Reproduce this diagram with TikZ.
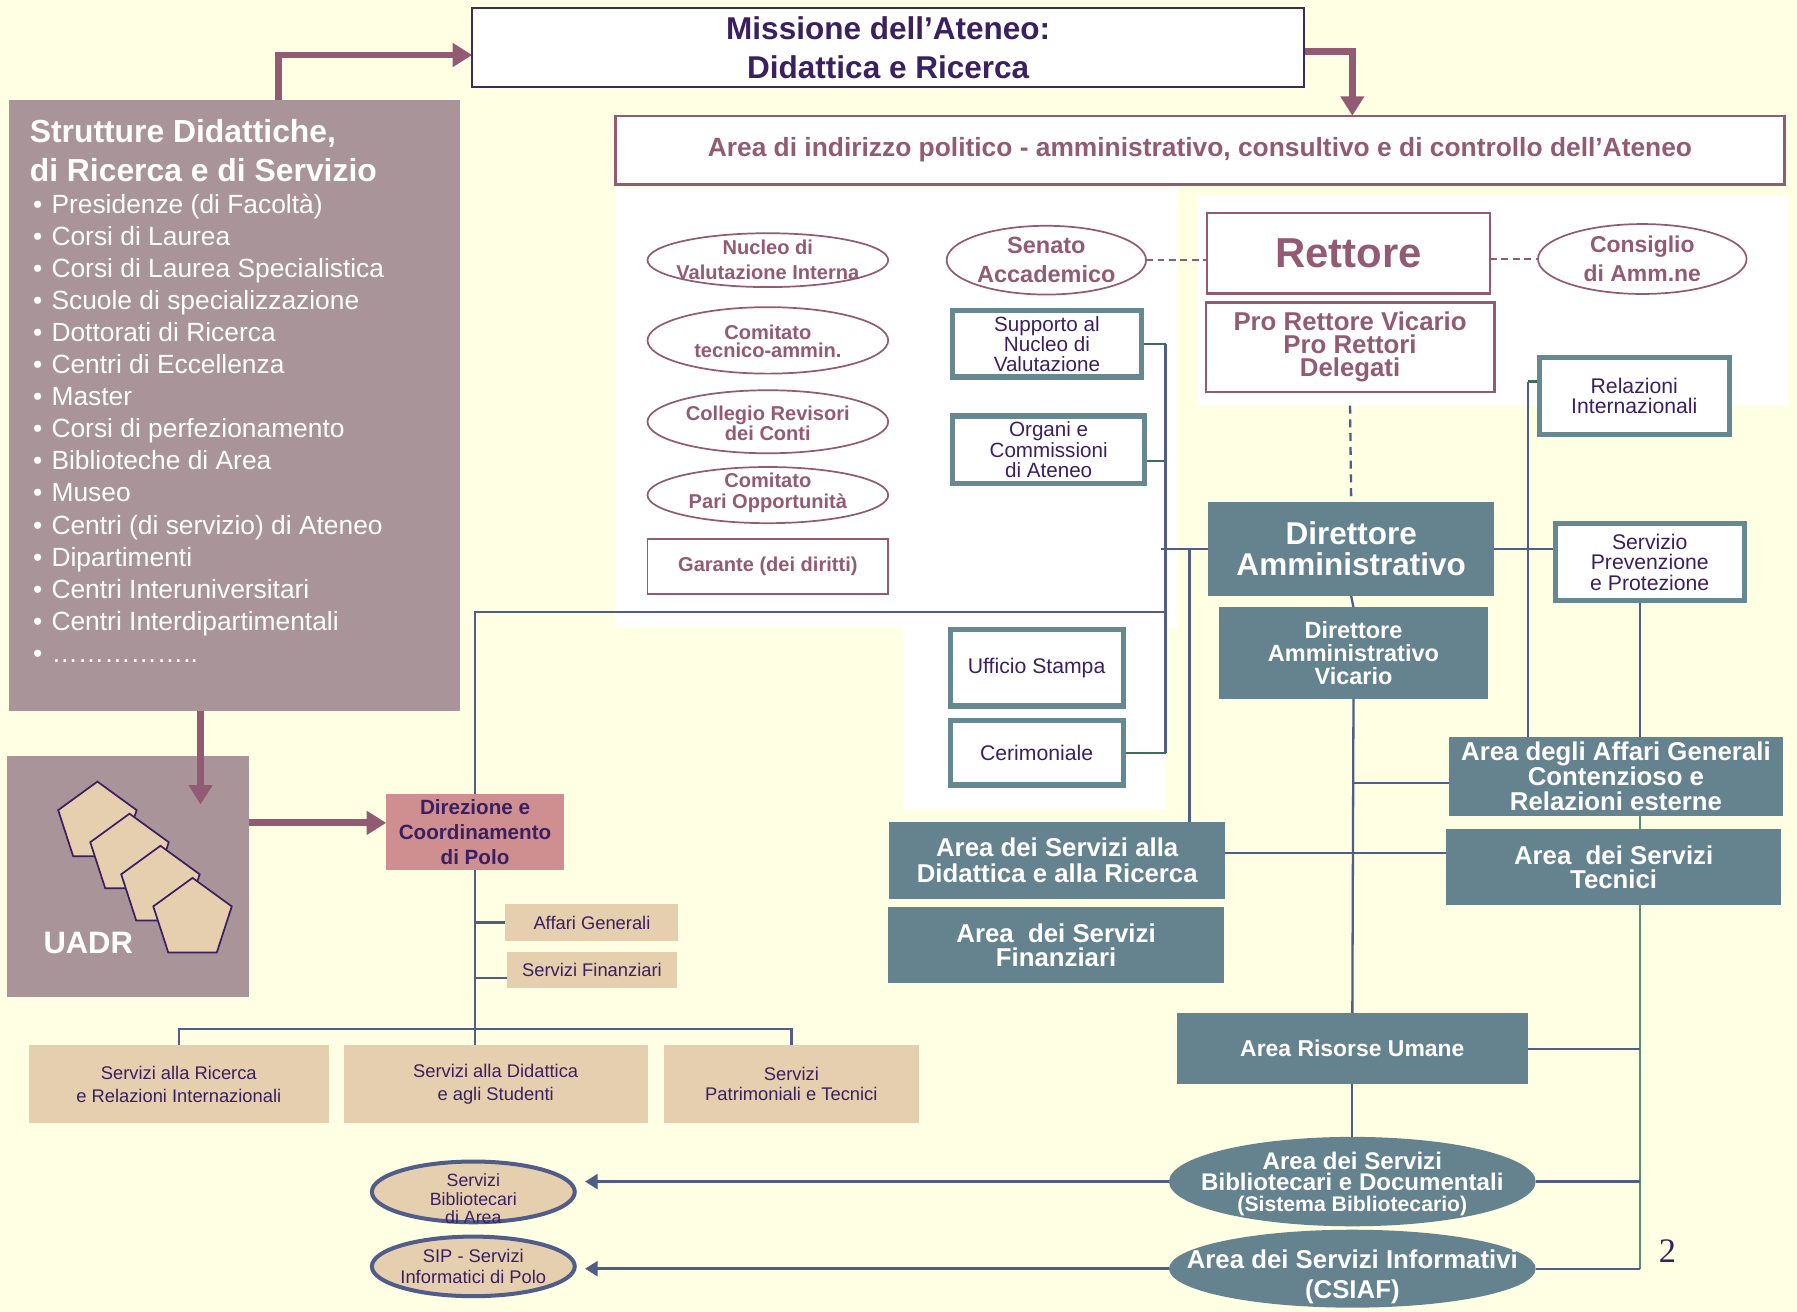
\documentclass[tikz,border=0pt]{standalone}
\usepackage{fontspec}
\setmainfont{Liberation Sans}
\newfontfamily\serif{Liberation Serif}
\usetikzlibrary{shapes.geometric,arrows.meta}
\pgfdeclarelayer{bgl}
\pgfdeclarelayer{lines}
\pgfsetlayers{bgl,lines,main}
\definecolor{bg}{HTML}{FFFFE4}
\definecolor{mauve}{HTML}{935B73}
\definecolor{dpur}{HTML}{3A2060}
\definecolor{strf}{HTML}{A99499}
\definecolor{tealf}{HTML}{64838E}
\definecolor{tealb}{HTML}{668891}
\definecolor{beige}{HTML}{E6CFAF}
\definecolor{pinkf}{HTML}{CF8E8F}
\definecolor{slate}{HTML}{4F5D88}
\definecolor{dgreen}{HTML}{3F6B5C}
\definecolor{lgreen}{HTML}{5A8A78}
\definecolor{mborder}{HTML}{3A2D5C}
\newcommand\fsz[2]{\fontsize{#1}{#2}\selectfont}
\begin{document}
\begin{tikzpicture}[x=1pt,y=-1pt,
  every node/.style={inner sep=0pt,outer sep=0pt},
  conn/.style={draw=slate,line width=2pt},
  gconn/.style={draw=dgreen,line width=2pt},
  lconn/.style={draw=lgreen,line width=2pt},
  big/.style={draw=mauve,line width=6pt,-{Triangle[length=17pt,width=20pt]}},
  tipa/.style={-{Triangle[length=11pt,width=13pt]}},
  dsh/.style={draw=mauve,line width=1.5pt,dash pattern=on 6pt off 4pt},
  sdsh/.style={draw=slate,line width=2pt,dash pattern=on 7pt off 5pt},
  mell/.style={ellipse,draw=mauve,line width=1.5pt,fill=white},
  mtxt/.style={text=mauve,align=center},
  tbox/.style={rectangle,draw=tealb,line width=4.5pt,fill=white,text=dpur,align=center},
  fbox/.style={rectangle,fill=tealf,text=white,align=center},
  bbox/.style={rectangle,fill=beige,text=dpur,align=center},
  bell/.style={ellipse,fill=beige,draw=slate,line width=3.5pt},
  btxt/.style={text=dpur,align=center},
  wtxt/.style={text=white,align=center},
  pent/.style={regular polygon,regular polygon sides=5,minimum size=72,fill=beige,draw=dpur,line width=1.5pt}
]
\useasboundingbox (0,0) rectangle (1568,1144);
\begin{pgfonlayer}{bgl}
\fill[bg] (0,0) rectangle (1568,1144);
\fill[white] (537,163) rectangle (1028,548);
\fill[white] (1045,171) rectangle (1560,353);
\fill[white] (788,548) rectangle (1017,706);
\end{pgfonlayer}

% top boxes
\node[rectangle,draw=mborder,line width=2pt,fill=white,text=dpur,align=center,font=\bfseries\fsz{27.5}{34},minimum width=726,minimum height=69] (mission) at (775,41.5) {Missione dell’Ateneo:\\Didattica e Ricerca};
\node[rectangle,draw=mauve,line width=2pt,fill=white,text=mauve,font=\bfseries\fsz{23}{23},minimum width=1020,minimum height=60] (area) at (1047,131) {Area di indirizzo politico - amministrativo, consultivo e di controllo dell’Ateneo};

% Strutture
\node[fill=strf,minimum width=393,minimum height=533] (sd) at (204.5,353.5) {};
\node[anchor=base west,text=white,font=\bfseries\fsz{27.8}{27.8}] (sdt1) at (26,124) {Strutture Didattiche,};
\node[anchor=base west,text=white,font=\bfseries\fsz{27.8}{27.8}] (sdt2) at (26,158) {di Ricerca e di Servizio};
\foreach \t [count=\i] in {Presidenze (di Facoltà),Corsi di Laurea,Corsi di Laurea Specialistica,Scuole di specializzazione,Dottorati di Ricerca,Centri di Eccellenza,Master,Corsi di perfezionamento,Biblioteche di Area,Museo,Centri (di servizio) di Ateneo,Dipartimenti,Centri Interuniversitari,Centri Interdipartimentali,……………..}
  \node[anchor=base west,text=white,font=\fsz{23}{23}] (it\i) at (29,158+28*\i) {\makebox[16pt][l]{•}\t};

% UADR
\node[fill=strf,minimum width=211,minimum height=210] (uadr) at (111.5,765) {};
\foreach \px/\py [count=\k] in {85/718,113/746,140/774,168/802}
  \node[pent] (pg\k) at (\px,\py) {};
\node[wtxt,font=\bfseries\fsz{27}{27}] (uadrt) at (77,823) {UADR};

% Polo
\node[fill=pinkf,text=dpur,align=center,font=\bfseries\fsz{18}{22},minimum width=155,minimum height=66] (dir) at (414.5,726) {Direzione e\\Coordinamento\\di Polo};
\node[bbox,font=\fsz{16}{16},minimum width=151,minimum height=32] (ag) at (516.5,805) {Affari Generali};
\node[bbox,font=\fsz{16}{16},minimum width=149,minimum height=31] (sf) at (516.5,846.5) {Servizi Finanziari};
\node[bbox,font=\fsz{16}{20},minimum width=262,minimum height=68] (sr) at (156,946) {Servizi alla Ricerca\\e Relazioni Internazionali};
\node[bbox,font=\fsz{16}{20},minimum width=265,minimum height=68] (sdid) at (432.5,946) {Servizi alla Didattica\\e agli Studenti};
\node[bbox,font=\fsz{16}{17},minimum width=223,minimum height=68] (sp) at (690.5,946) {Servizi\\Patrimoniali e Tecnici};
\node[bell,minimum width=177,minimum height=53,label={[btxt,font=\fsz{15.5}{16},yshift=-6pt]center:{Servizi\\Bibliotecari\\di Area}}] (sba) at (413,1040) {};
\node[bell,minimum width=177,minimum height=52,label={[btxt,font=\fsz{16}{19}]center:{SIP - Servizi\\Informatici di Polo}}] (sip) at (413,1105) {};

% mauve ellipses
\node[mell,minimum width=210,minimum height=47,label={[mtxt,font=\bfseries\fsz{17.5}{22}]center:{Nucleo di\\Valutazione Interna}}] (nvi) at (670,227) {};
\node[mell,minimum width=210,minimum height=58,label={[mtxt,font=\bfseries\fsz{17.5}{16},yshift=-1pt]center:{Comitato\\tecnico-ammin.}}] (cta) at (670,297) {};
\node[mell,minimum width=210,minimum height=55,label={[mtxt,font=\bfseries\fsz{17.5}{16},yshift=-1pt]center:{Collegio Revisori\\dei Conti}}] (crc) at (670,368) {};
\node[mell,minimum width=210,minimum height=49,label={[mtxt,font=\bfseries\fsz{17.5}{18},yshift=2pt]center:{Comitato\\Pari Opportunità}}] (cpo) at (670,432) {};
\node[rectangle,draw=mauve,line width=1.5pt,fill=white,text=mauve,font=\bfseries\fsz{17.5}{18},minimum width=210,minimum height=48] (gar) at (670,494) {Garante (dei diritti)};
\node[mell,minimum width=174,minimum height=60,label={[mtxt,font=\bfseries\fsz{20.5}{25}]center:{Senato\\Accademico}}] (sen) at (913,227) {};
\node[mell,minimum width=182,minimum height=61,label={[mtxt,font=\bfseries\fsz{20}{25}]center:{Consiglio\\di Amm.ne}}] (cons) at (1433,226) {};
\node[rectangle,draw=mauve,line width=2pt,fill=white,text=mauve,font=\bfseries\fsz{36.5}{36.5},minimum width=247,minimum height=70] (ret) at (1176.5,221) {Rettore};
\node[rectangle,draw=mauve,line width=2pt,fill=white,text=mauve,align=center,font=\bfseries\fsz{22.5}{20},minimum width=252,minimum height=78] (pr) at (1178,303) {Pro Rettore Vicario\\Pro Rettori\\Delegati};

% teal bordered boxes
\node[tbox,font=\fsz{18}{17.5},minimum width=165,minimum height=58] (sup) at (913.5,300) {Supporto al\\Nucleo di\\Valutazione};
\node[tbox,font=\fsz{18}{18},minimum width=168,minimum height=59] (org) at (915,392.5) {Organi e\\Commissioni\\di Ateneo};
\node[tbox,font=\fsz{18.5}{18.5},minimum width=151,minimum height=67] (ust) at (904.5,582.5) {Ufficio Stampa};
\node[tbox,font=\fsz{18.5}{18.5},minimum width=151,minimum height=56] (cer) at (904.5,657) {Cerimoniale};
\node[tbox,font=\fsz{18.5}{18},minimum width=166,minimum height=67] (rel) at (1426,345.5) {Relazioni\\Internazionali};
\node[tbox,font=\fsz{18.5}{18},minimum width=165,minimum height=67] (spp) at (1439.5,490.5) {Servizio\\Prevenzione\\e Protezione};

% teal filled boxes
\node[fbox,font=\bfseries\fsz{27.5}{27},minimum width=250,minimum height=82] (da) at (1179,479) {Direttore\\Amministrativo};
\node[fbox,font=\bfseries\fsz{20.5}{20},minimum width=234,minimum height=80] (dav) at (1181,570) {Direttore\\Amministrativo\\Vicario};
\node[fbox,font=\bfseries\fsz{22.5}{22},minimum width=292,minimum height=69] (aag) at (1410,677.5) {Area degli Affari Generali\\Contenzioso e\\Relazioni esterne};
\node[fbox,font=\bfseries\fsz{22.5}{21},minimum width=292,minimum height=67] (ast) at (1408,756.5) {Area\ \ dei Servizi\\Tecnici};
\node[fbox,font=\bfseries\fsz{22.5}{23},minimum width=293,minimum height=67] (asd) at (922.5,750.5) {Area dei Servizi alla\\Didattica e alla Ricerca};
\node[fbox,font=\bfseries\fsz{22.5}{21},minimum width=293,minimum height=67] (asf) at (921.5,824.5) {Area\ \ dei Servizi\\Finanziari};
\node[fbox,font=\bfseries\fsz{20}{20},minimum width=306,minimum height=62] (aru) at (1180,915) {Area Risorse Umane};
\node[ellipse,fill=tealf,minimum width=320,minimum height=78,label={[wtxt,font=\bfseries\fsz{21}{18},yshift=-2pt]center:{Area dei Servizi\\Bibliotecari e Documentali\\{\fsz{18.5}{18}(Sistema Bibliotecario)}}}] (bib) at (1180,1031) {};
\node[ellipse,fill=tealf,minimum width=320,minimum height=68,label={[wtxt,font=\bfseries\fsz{22.5}{26},yshift=-7pt]center:{Area dei Servizi Informativi\\(CSIAF)}}] (csi) at (1180,1107) {};

\node[text=dpur,font=\serif\fsz{30}{30}] (pnum) at (1455,1092) {2};

% arrow into UADR (drawn on top of the UADR box)
\coordinate (a3) at (175,702);
\draw[big] (sd.south -| a3) -- (a3);

% connectors
\begin{pgfonlayer}{lines}
\draw[big] ([xshift=38.5pt]sd.north) |- ([yshift=-6.5pt]mission.west);
\draw[big] ([yshift=-3.5pt]mission.east) -| ([xshift=133pt]area.north);
\draw[big] ([yshift=47pt]uadr.east) -- ([yshift=47pt]uadr.east -| dir.west);

\coordinate (vr) at (1017,534);
\draw[conn] (dir.north) |- (vr);
\draw[conn] (dir.south) -- (dir.south |- sdid.north);
\draw[conn] (ag.west -| dir.south) -- (ag.west);
\draw[conn] ([yshift=-7pt]sf.west -| dir.south) -- ([yshift=-7pt]sf.west);
\draw[conn] (sr.north) |- ([yshift=14pt]sp.north) -- (sp.north);

\draw[conn] (sup.east -| vr) -- (cer.east -| vr);
\draw[gconn] (sup.east) -- (sup.east -| vr);
\draw[gconn] ([yshift=-9.5pt]org.east) -- ([yshift=-9.5pt]org.east -| vr);
\draw[gconn] (cer.east) -- (cer.east -| vr);

\coordinate (v2) at (1038,479);
\draw[conn] ([xshift=-4pt]da.west -| vr) -- (da.west);
\draw[conn] (v2) -- (v2 |- asd.north);
\draw[conn] (da.east) -- (da.east -| spp.west);

\draw[sdsh] ([yshift=-12pt]pr.south) -- (da.north);
\draw[dsh] (sen.east) -- (sen.east -| ret.west);
\draw[dsh] (ret.east |- cons.west) -- (cons.west);

\draw[conn] (da.south) -- (dav.north);
\draw[conn] (dav.south) -- (aru.north);
\draw[conn] ([yshift=-5.5pt]aag.west -| dav.south) -- ([yshift=-5.5pt]aag.west);
\draw[conn] ([yshift=6.5pt]asd.east) -- ([yshift=6.5pt]asd.east -| ast.west);
\draw[conn] (aru.south) -- (bib.north);

\coordinate (v3) at (1333,0);
\draw[gconn] ([yshift=12.5pt]rel.west) -- ([yshift=12.5pt]rel.west -| v3);
\draw[conn] ([yshift=12.5pt]rel.west -| v3) -- (v3 |- aag.north);

\coordinate (v4) at (1431,0);
\draw[conn] (spp.south -| v4) -- (v4 |- aag.north);
\draw[lconn] (v4 |- aag.south) -- (v4 |- csi.east);
\draw[conn] (aru.east) -- (aru.east -| v4);
\draw[conn] (bib.east) -- (bib.east -| v4);
\draw[conn] (csi.east) -- (csi.east -| v4);

\draw[conn,line width=2.5pt,tipa] (bib.west) -- ([xshift=9pt]bib.west -| sba.east);
\draw[conn,line width=2.5pt,tipa] (csi.west) -- ([xshift=9pt]csi.west -| sip.east);
\end{pgfonlayer}
\end{tikzpicture}
\end{document}
